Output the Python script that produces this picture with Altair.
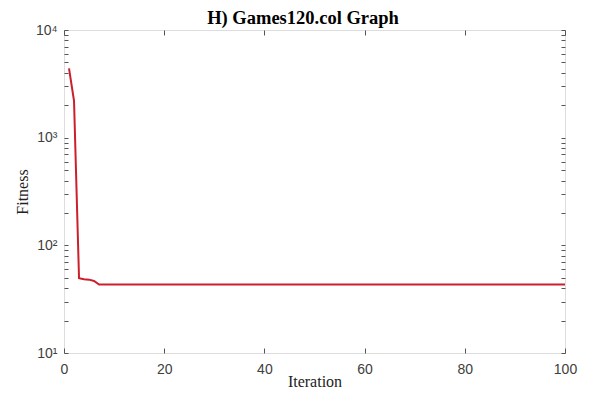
import altair as alt
import pandas as pd

iterations = list(range(1, 101))
fitness = [4400, 2200, 49.5, 48.5, 48, 46.7] + [43.3] * 94
x_ticks = [0, 20, 40, 60, 80, 100]
y_ticks = [10, 20, 30, 40, 50, 60, 70, 80, 90,
           100, 200, 300, 400, 500, 600, 700, 800, 900,
           1000, 2000, 3000, 4000, 5000, 6000, 7000, 8000, 9000, 10000]
title_text = "H) Games120.col Graph"
clipped_text = "Iteration"

df = pd.DataFrame({"Iteration": iterations, "Fitness": fitness})

label_expr = ("datum.value == 10 ? '10\u00b9' : datum.value == 100 ? '10\u00b2' : "
              "datum.value == 1000 ? '10\u00b3' : datum.value == 10000 ? '10\u2074' : ''")

xscale = alt.Scale(domain=[0, 100], nice=False, zero=False)
yscale = alt.Scale(type="log", domain=[10, 10000], nice=False)

common = dict(domain=False, grid=False, tickColor="#555555", tickWidth=1)

base = alt.Chart(df)

line = base.mark_line(color="#cc1f2a", strokeWidth=2, clip=True).encode(
    x=alt.X("Iteration:Q", scale=xscale,
            axis=alt.Axis(orient="bottom", values=x_ticks, title="Iteration",
                          labelFont="Liberation Sans", labelFontSize=14, labelColor="#404040",
                          labelPadding=14, labelFlush=False, tickSize=alt.ExprRef(expr="-5"),
                          titleFont="Liberation Serif", titleFontSize=16,
                          titleFontWeight="normal", titleColor="#222222", titlePadding=-3,
                          **common)),
    y=alt.Y("Fitness:Q", scale=yscale,
            axis=alt.Axis(orient="left", values=y_ticks, labelExpr=label_expr,
                          title="Fitness",
                          labelFont="Liberation Sans", labelFontSize=14, labelColor="#404040",
                          labelPadding=11, labelFlush=False, tickSize=alt.ExprRef(expr="-4"),
                          titleFont="Liberation Serif", titleFontSize=16,
                          titleFontWeight="normal", titleColor="#222222", titlePadding=5,
                          **common)),
)

ghost = base.mark_line(opacity=0).encode(
    x=alt.X("Iteration:Q", scale=xscale,
            axis=alt.Axis(orient="top", values=x_ticks, labels=False, title=None,
                          tickSize=alt.ExprRef(expr="-5"), **common)),
    y=alt.Y("Fitness:Q", scale=yscale,
            axis=alt.Axis(orient="right", values=y_ticks, labels=False, title=None,
                          tickSize=alt.ExprRef(expr="-4"), **common)),
)

top_text = alt.Chart(pd.DataFrame({"t": [clipped_text]})).mark_text(
    font="Liberation Serif", fontSize=16, color="#222222", baseline="alphabetic", align="center"
).encode(x=alt.value(247), y=alt.value(-22), text="t:N")

title_mark = alt.Chart(pd.DataFrame({"t": [title_text]})).mark_text(
    font="Liberation Serif", fontSize=18.5, fontWeight="bold", color="#000000",
    baseline="alphabetic", align="center"
).encode(x=alt.value(239), y=alt.value(-6), text="t:N")

chart = alt.layer(line, ghost, top_text, title_mark).resolve_scale(
    x="shared", y="shared"
).resolve_axis(x="independent", y="independent").properties(
    width=501, height=323,
    padding={"left": 56, "top": 22, "right": 22, "bottom": 36},
    autosize="none",
).configure_view(stroke="#808080", strokeWidth=1).configure(background="white")

chart.save("out.html", embed_options={"renderer": "svg", "actions": False})
